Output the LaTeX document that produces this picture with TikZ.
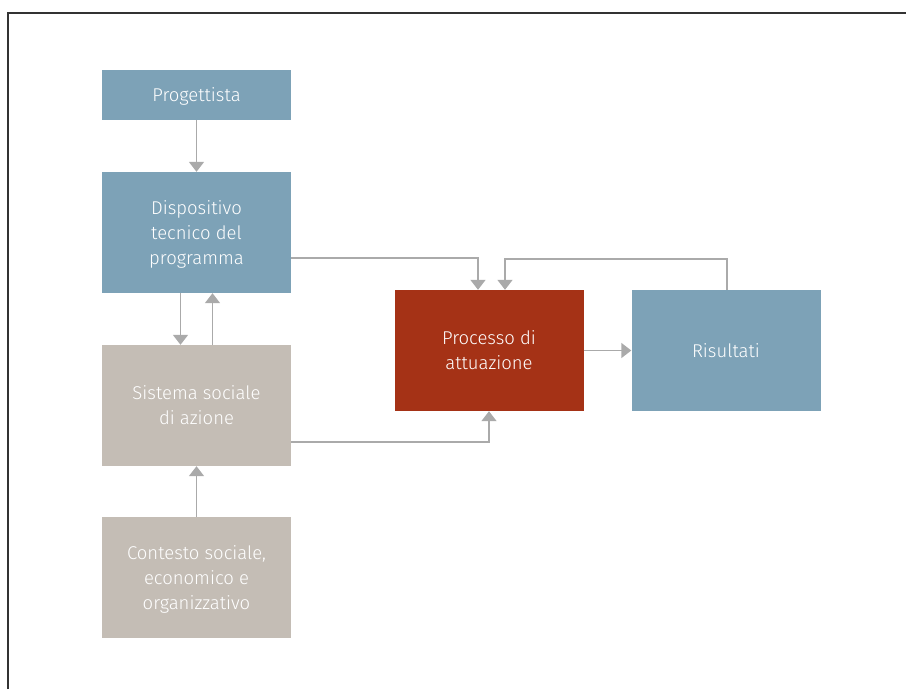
\documentclass[tikz,border=0pt]{standalone}
\usepackage{fontspec}
\setmainfont{Fira Sans}[UprightFont=* Light]
\usetikzlibrary{arrows.meta}
\definecolor{boxblue}{HTML}{7DA2B7}
\definecolor{boxgrey}{HTML}{C4BDB5}
\definecolor{boxred}{HTML}{A53216}
\definecolor{linegrey}{HTML}{AAAAAA}
\tikzset{
  block/.style={fill=#1, text=white, minimum width=189pt, minimum height=121pt,
    align=center, inner sep=0pt, text depth=-8pt, font=\fontsize{18.5}{25}\selectfont},
  link/.style={draw=linegrey, line width=1.6pt, -{Triangle[width=15pt,length=10pt]}}
}
\begin{document}
\begin{tikzpicture}[x=1pt,y=-1pt]
        \useasboundingbox (0,0) rectangle (906,689);
        \draw[line width=1.2pt, draw=black!80] (8,689) -- (8,13) -- (906,13);
        % boxes
        \node[block=boxblue, minimum height=50pt] (prog) at (196.5,95)    {Progettista};
        \node[block=boxblue] (disp) at (196.5,232.5) {Dispositivo\\tecnico del\\programma};
        \node[block=boxgrey] (soc)  at (196.5,405.5) {Sistema sociale\\di azione};
        \node[block=boxgrey] (ctx)  at (196.5,577.5) {Contesto sociale,\\economico e\\organizzativo};
        \node[block=boxred]  (proc) at (489,350.5)   {Processo di\\attuazione};
        \node[block=boxblue] (ris)  at (726,350.5)   {Risultati};
        % connectors
        \draw[link] (prog) -- (disp);
        \draw[link] ([xshift=-16pt]disp.south) -- ([xshift=-16pt]soc.north);
        \draw[link] ([xshift=16pt]soc.north) -- ([xshift=16pt]disp.south);
        \draw[link] (ctx) -- (soc);
        \draw[link] ([yshift=-25.5pt]disp.east) -| ([xshift=-11pt]proc.north);
        \draw[link] ([xshift=1pt]ris.north) -- ++(0,-31) -| ([xshift=16pt]proc.north);
        \draw[link] ([yshift=-36.5pt]soc.east) -| (proc.south);
        \draw[link] (proc) -- (ris);
    \end{tikzpicture}
\end{document}
